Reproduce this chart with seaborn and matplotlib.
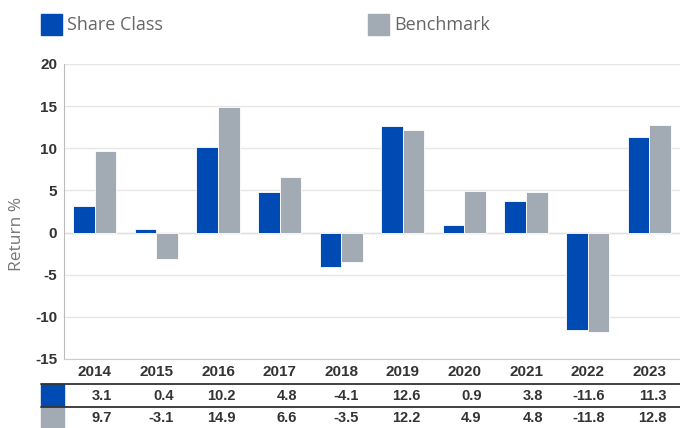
import matplotlib
matplotlib.use("Agg")
import matplotlib.pyplot as plt
import matplotlib.transforms as mtransforms
from matplotlib.patches import Rectangle
from matplotlib.lines import Line2D
import seaborn as sns
import pandas as pd

years = ["2014", "2015", "2016", "2017", "2018", "2019", "2020", "2021", "2022", "2023"]
share_class = [3.1, 0.4, 10.2, 4.8, -4.1, 12.6, 0.9, 3.8, -11.6, 11.3]
benchmark = [9.7, -3.1, 14.9, 6.6, -3.5, 12.2, 4.9, 4.8, -11.8, 12.8]
series_names = ["Share Class", "Benchmark"]
y_ticks = [-15, -10, -5, 0, 5, 10, 15, 20]

BLUE = "#004AB4"
GRAY = "#A2AAB3"
W, H = 680, 428

df = pd.DataFrame({
    "year": years * 2,
    "value": share_class + benchmark,
    "series": [series_names[0]] * len(years) + [series_names[1]] * len(years),
})

sns.set_style("white")
fig = plt.figure(figsize=(W / 100, H / 100), dpi=100)
ax = fig.add_axes([64 / W, 1 - 359 / H, (W - 64) / W, (359 - 64) / H])

sns.barplot(data=df, x="year", y="value", hue="series", order=years,
            hue_order=series_names, palette=[BLUE, GRAY], width=0.7,
            saturation=1, edgecolor="white", linewidth=0.6, legend=False,
            ax=ax, zorder=3)

ax.set_ylim(-15, 20)
ax.set_xlim(-0.5, len(years) - 0.5)
ax.set_yticks(y_ticks)
ax.set_yticklabels([str(t) for t in y_ticks], fontfamily="Liberation Sans",
                   fontweight="bold", fontsize=11, color="#333333")
ax.set_xticks(range(len(years)))
ax.set_xticklabels(years, fontfamily="Liberation Sans", fontweight="bold",
                   fontsize=11, color="#333333")
ax.tick_params(axis="both", length=0)
ax.tick_params(axis="x", pad=4)
ax.tick_params(axis="y", pad=5)
ax.set_xlabel("")
ax.set_ylabel("Return %", fontfamily="Open Sans", fontsize=12.5, color="#777777")
ax.yaxis.set_label_coords(-0.063, 0.424)
ax.yaxis.grid(True, color="#E6E6E6", linewidth=1, zorder=0)
ax.set_axisbelow(True)
ax.axhline(0, color="#E0E0E0", linewidth=1, zorder=2)
for s in ["top", "right"]:
    ax.spines[s].set_visible(False)
ax.spines["left"].set_color("#BBBBBB")
ax.spines["bottom"].set_color("#CCCCCC")

# legend at top
for x0, color, label in [(41, BLUE, series_names[0]), (368, GRAY, series_names[1])]:
    fig.patches.append(Rectangle((x0 / W, 1 - 35 / H), 21 / W, 21 / H,
                                 transform=fig.transFigure, color=color))
    fig.text((x0 + 26) / W, 1 - 25 / H, label, fontfamily="Open Sans",
             fontsize=13, color="#666666", va="center", ha="left")

# data table below the chart
trans = mtransforms.blended_transform_factory(ax.transData, fig.transFigure)
for y in [384, 407]:
    fig.lines.append(Line2D([41 / W, 1], [1 - y / H, 1 - y / H],
                            transform=fig.transFigure, color="#333333", linewidth=1.3))
fig.patches.append(Rectangle((41 / W, 1 - 407 / H), 23 / W, 23 / H,
                             transform=fig.transFigure, color=BLUE))
fig.patches.append(Rectangle((41 / W, 0), 23 / W, 21 / H,
                             transform=fig.transFigure, color=GRAY))
for row_y, vals in [(396, share_class), (418, benchmark)]:
    for i, v in enumerate(vals):
        ax.text(i + 0.28, 1 - row_y / H, f"{v:.1f}", transform=trans,
                ha="right", va="center", fontfamily="Liberation Sans",
                fontweight="bold", fontsize=10.5, color="#333333")

fig.savefig("out.png", dpi=100)
